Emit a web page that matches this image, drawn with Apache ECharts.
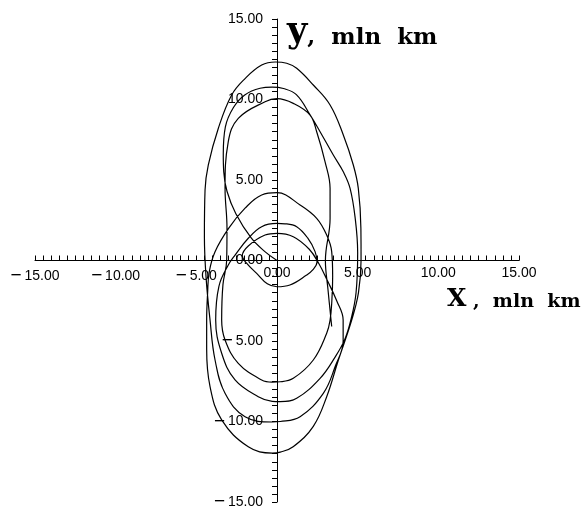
<!DOCTYPE html>
<html>
<head>
<meta charset="utf-8">
<script src="https://cdn.jsdelivr.net/npm/echarts@6/dist/echarts.min.js"></script>
<style>
html,body{margin:0;padding:0;background:#fff;}
#chart{width:582px;height:508px;}
</style>
</head>
<body>
<div id="chart"></div>
<script>
// Trajectory pieces (x, y in mln km), in drawing order
const segStart   = [[0,0],[-0.75,0.55],[-1.6,1.4],[-2.55,2.9],[-3.1,4.3],[-3.3,5.5],[-3.33,6.6],[-3.2,8.3],[-2.7,9.5],[-2.0,10.28],[-1.05,10.7],[-0.3,10.77]];
const segT2right = [[0.4,10.68],[1.2,10.3],[2.05,9.05],[2.67,8.0],[3.49,6.55],[4.11,5.51],[4.53,4.48],[4.85,2.6],[5.0,0.5],[4.9,-2.0],[4.6,-3.6],[4.2,-4.9],[3.6,-6.0],[2.67,-7.32],[1.22,-8.56],[0.2,-8.77],[-0.3,-8.75]];
const segB3left  = [[-1.16,-8.46],[-2.6,-7.42],[-3.43,-5.76],[-3.8,-3.7],[-3.6,-1.6],[-3.02,-0.28],[-2.6,0.34],[-1.78,1.38],[-0.95,2.1],[0,2.3]];
const segT5right = [[0.5,2.28],[1.22,2.1],[1.9,1.4],[2.36,0.55],[2.48,-0.1],[2.2,-0.6],[1.84,-0.9],[0.8,-1.52],[0,-1.63]];
const segB5left  = [[-0.6,-1.45],[-1.26,-0.8],[-1.9,-0.15],[-2.15,0.3],[-1.78,0.9],[-0.74,1.58],[0,1.69]];
const segT6right = [[1.01,1.48],[2.0,0.7],[2.6,-0.2],[3.1,-1.2],[3.7,-2.5],[4.1,-3.7],[4.1,-5.0],[3.6,-6.6],[2.87,-8.25],[1.43,-9.7],[0.2,-10.0],[-0.3,-10.03]];
const segB2left  = [[-1.98,-9.7],[-3.22,-8.25],[-3.84,-6.18],[-4.15,-3.7],[-4.4,-1.0],[-4.5,1.5],[-4.46,4.38],[-4.26,5.93],[-3.64,8.2],[-2.81,10.28],[-1.98,11.3],[-0.95,12.14],[-0.1,12.33]];
const segT1right = [[0.6,12.25],[1.22,11.94],[2.25,10.9],[3.29,9.66],[4.11,7.8],[4.73,5.93],[5.04,4.48],[5.2,2.0],[5.21,0],[5.05,-2.0],[4.63,-3.7],[3.8,-6.2],[3.08,-8.46],[2.25,-10.3],[1.0,-11.57],[0.2,-11.9],[-0.3,-11.96]];
const segB1left  = [[-1.78,-11.57],[-3.43,-9.9],[-4.15,-7.84],[-4.36,-5.5],[-4.36,-3.7],[-4.3,-2.0],[-4.2,-0.7],[-3.84,0.55],[-3.0,2.0],[-1.98,3.25],[-0.95,4.07],[0,4.21]];
const segT4right = [[1.43,3.45],[2.46,2.62],[3.08,1.58],[3.39,0.55],[3.45,-1.0],[3.4,-2.5],[3.29,-3.7],[3.08,-4.52],[2.25,-6.18],[1.01,-7.32],[0.2,-7.53],[-0.3,-7.55]];
const segB4left  = [[-0.95,-7.42],[-2.4,-6.39],[-3.22,-4.94],[-3.43,-3.7],[-3.35,-1.5],[-3.12,0],[-3.1,2.0],[-3.22,4.48],[-3.02,7.38],[-2.4,8.83],[-0.74,9.86],[0,10.05]];
const segT3right = [[1.01,9.76],[2.05,9.03],[2.46,8.0],[2.98,6.13],[3.29,4.48],[3.29,2.6],[3.0,0],[3.16,-1.8],[3.39,-4.1]];

const axisMin = -15, axisMax = 15, axisStep = 5;
const xName = 'X';
const yName = 'y';
const unitText = 'mln  km';

const trajectory = [].concat(segStart, segT2right, segB3left, segT5right, segB5left,
  segT6right, segB2left, segT1right, segB1left, segT4right, segB4left, segT3right);

function fmt(v){ return (v < 0 ? '{m|\u2212}\u2009' : '') + Math.abs(v).toFixed(2); }

const W = 582, H = 508;
const G = {left:35, right:63, top:19, bottom:6};
const gw = W - G.left - G.right, gh = H - G.top - G.bottom;

const chart = echarts.init(document.getElementById('chart'));
const labelFont = {fontFamily:'Liberation Sans, Arial, sans-serif', fontSize:14, color:'#000',
  rich:{m:{fontFamily:'Liberation Sans, Arial, sans-serif', fontSize:19, color:'#000'}}};
chart.setOption({
  animation:false,
  backgroundColor:'#fff',
  grid:{left:G.left, right:G.right, top:G.top, bottom:G.bottom, containLabel:false, outerBoundsMode:'none'},
  xAxis:{
    type:'value', min:axisMin, max:axisMax, interval:axisStep, position:'bottom', offset:-gh/2,
    axisLine:{show:true, onZero:false, lineStyle:{color:'#000', width:1}},
    axisTick:{show:true, inside:true, length:5, lineStyle:{color:'#000'}},
    minorTick:{show:true, splitNumber:10, length:5, lineStyle:{color:'#000'}},
    splitLine:{show:false},
    axisLabel:Object.assign({margin:6, formatter:fmt, showMinLabel:true, showMaxLabel:true}, labelFont)
  },
  yAxis:{
    type:'value', min:axisMin, max:axisMax, interval:axisStep, position:'left', offset:-gw/2,
    axisLine:{show:true, onZero:false, lineStyle:{color:'#000', width:1}},
    axisTick:{show:true, inside:false, length:5, lineStyle:{color:'#000'}},
    minorTick:{show:true, splitNumber:10, length:5, lineStyle:{color:'#000'}},
    splitLine:{show:false},
    axisLabel:Object.assign({margin:14, formatter:fmt, showMinLabel:true, showMaxLabel:true}, labelFont)
  },
  graphic:[
    {type:'text', left:287, top:15, style:{
      text:'{a|' + yName + '}{b|,  ' + unitText + '}',
      rich:{
        a:{fontFamily:'DejaVu Serif', fontWeight:'bold', fontSize:35, fill:'#000', verticalAlign:'bottom', lineHeight:36},
        b:{fontFamily:'DejaVu Serif', fontWeight:'bold', fontSize:23, fill:'#000', verticalAlign:'bottom', lineHeight:36}
      }}},
    {type:'text', left:447, top:287, style:{
      text:'{a|' + xName + '}{b| ,  ' + unitText + '}',
      rich:{
        a:{fontFamily:'DejaVu Serif', fontWeight:'bold', fontSize:25, fill:'#000', verticalAlign:'bottom', lineHeight:28},
        b:{fontFamily:'DejaVu Serif', fontWeight:'bold', fontSize:19, fill:'#000', verticalAlign:'bottom', lineHeight:28}
      }}}
  ],
  series:[{
    type:'line', data:trajectory, showSymbol:false, smooth:0.4,
    lineStyle:{color:'#000', width:1.2}, clip:false
  }]
});
</script>
</body>
</html>
